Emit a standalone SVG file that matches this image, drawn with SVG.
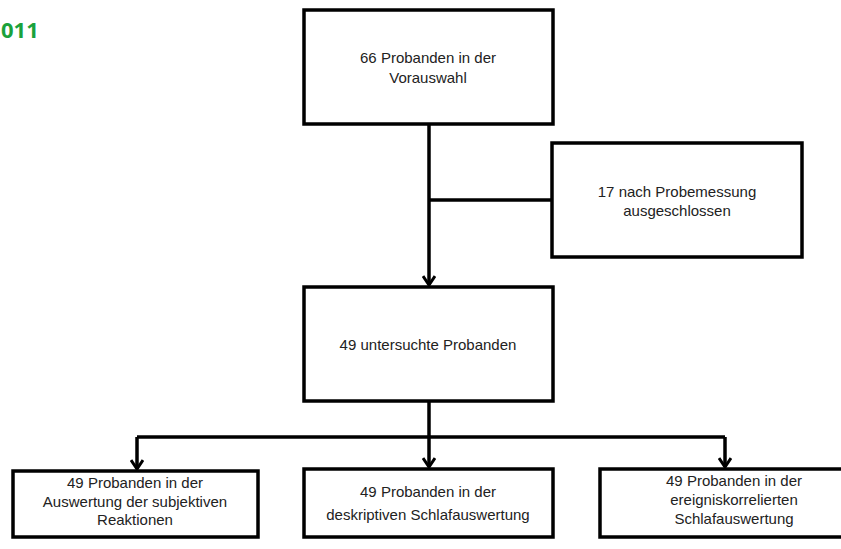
<svg xmlns="http://www.w3.org/2000/svg" width="841" height="549" viewBox="0 0 841 549">
<style>
.box{fill:#fff;stroke:#000;stroke-width:3.5}
.t{font-family:"Liberation Sans",Arial,sans-serif;font-size:15px;fill:#222;text-anchor:middle}
.c{fill:none;stroke:#000;stroke-width:3.5}
.yr{font-family:"Open Sans","Liberation Sans",sans-serif;font-weight:bold;font-size:22px;fill:#1aa23c}
</style>
<defs>
<marker id="arr" viewBox="0 0 12 14" refX="10" refY="7" markerWidth="12" markerHeight="14" markerUnits="userSpaceOnUse" orient="auto">
<path d="M1,1 L10,7 L1,13" fill="none" stroke="#000" stroke-width="3"/>
</marker>
</defs>
<rect width="841" height="549" fill="#fff"/>
<text class="yr" x="1" y="38">011</text>
<g id="connectors">
<path class="c" d="M429,124 V285" marker-end="url(#arr)"/>
<path class="c" d="M429,200 H552"/>
<path class="c" d="M429,401 V467" marker-end="url(#arr)"/>
<path class="c" d="M137,437 H725"/>
<path class="c" d="M137,437 V469" marker-end="url(#arr)"/>
<path class="c" d="M725,437 V467" marker-end="url(#arr)"/>
</g>
<g id="n1">
<rect class="box" x="304" y="10" width="249" height="114"/>
<text class="t" x="428" y="63">66 Probanden in der</text>
<text class="t" x="428" y="83">Vorauswahl</text>
</g>
<g id="n2">
<rect class="box" x="552" y="143" width="250" height="114"/>
<text class="t" x="677" y="197">17 nach Probemessung</text>
<text class="t" x="677" y="216">ausgeschlossen</text>
</g>
<g id="n3">
<rect class="box" x="304" y="287" width="249" height="114"/>
<text class="t" x="428" y="350">49 untersuchte Probanden</text>
</g>
<g id="n4">
<rect class="box" x="13" y="471" width="245" height="66"/>
<text class="t" x="135" y="488">49 Probanden in der</text>
<text class="t" x="135" y="507">Auswertung der subjektiven</text>
<text class="t" x="135" y="525">Reaktionen</text>
</g>
<g id="n5">
<rect class="box" x="304" y="469" width="249" height="68"/>
<text class="t" x="428" y="497">49 Probanden in der</text>
<text class="t" x="428" y="520">deskriptiven Schlafauswertung</text>
</g>
<g id="n6">
<rect class="box" x="600" y="469" width="268" height="68"/>
<text class="t" x="734" y="486">49 Probanden in der</text>
<text class="t" x="734" y="505">ereigniskorrelierten</text>
<text class="t" x="734" y="524">Schlafauswertung</text>
</g>
</svg>
